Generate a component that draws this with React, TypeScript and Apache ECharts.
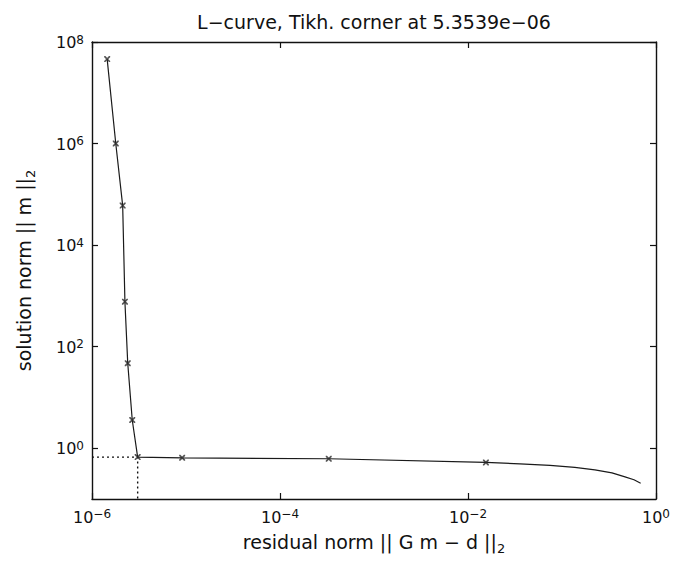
import React, { useEffect, useRef } from "react";
import * as echarts from "echarts";

// Tikhonov L-curve: residual norm ||G m − d||₂ against solution norm ||m||₂
const residualNorm = [1.45e-6, 1.79e-6, 2.12e-6, 2.24e-6, 2.4e-6, 2.68e-6, 3.06e-6, 9.1e-6, 3.3e-4, 1.55e-2];
const solutionNorm = [4.6e7, 1.0e6, 6.0e4, 7.7e2, 47, 3.6, 0.668, 0.647, 0.62, 0.525];
// remaining curve points beyond the last marked regularization parameter
const tailResidual = [3.57e-2, 7.45e-2, 0.137, 0.224, 0.34, 0.468, 0.583, 0.687];
const tailSolution = [0.493, 0.46, 0.42, 0.376, 0.328, 0.273, 0.239, 0.205];
// index of the corner among the marked samples
const cornerIndex = 6;
const cornerLambda = "5.3539e\u221206";

const xRange = [1e-6, 1];
const yRange = [1e-1, 1e8];
const xTickValues = [1e-6, 1e-4, 1e-2, 1];
const yTickValues = [1, 1e2, 1e4, 1e6, 1e8];

const FONT = '"DejaVu Sans", "Liberation Sans", sans-serif';
const INK = "#111";

const powerLabel = (v: number) => {
  const e = Math.round(Math.log10(v));
  const s = e < 0 ? "\u2212" + Math.abs(e) : String(e);
  return `{b|10}{s|${s}}`;
};

const tickRich = {
  b: { fontFamily: FONT, fontSize: 16, color: INK, lineHeight: 17, padding: [8, 0, 0, 0], verticalAlign: "bottom" },
  s: { fontFamily: FONT, fontSize: 12, color: INK, lineHeight: 13, verticalAlign: "top" },
};

const nameRich = {
  t: { fontFamily: FONT, fontSize: 19, color: INK, lineHeight: 22, verticalAlign: "top" },
  sub: { fontFamily: FONT, fontSize: 13, color: INK, lineHeight: 14, padding: [10, 0, 0, 0], verticalAlign: "top" },
};

const frameLine = { show: true, onZero: false, lineStyle: { color: INK, width: 1.4 } };

function buildOption() {
  const curve = [
    ...residualNorm.map((x, i) => [x, solutionNorm[i]]),
    ...tailResidual.map((x, i) => [x, tailSolution[i]]),
  ];
  const samples = residualNorm.map((x, i) => [x, solutionNorm[i]]);
  const cx = residualNorm[cornerIndex];
  const cy = solutionNorm[cornerIndex];
  const cornerGuide = [
    [xRange[0], cy],
    [cx, cy],
    [cx, yRange[0]],
  ];

  const logX = {
    type: "log",
    logBase: 10,
    min: xRange[0],
    max: xRange[1],
    axisLine: frameLine,
    splitLine: { show: false },
    axisTick: { show: true, inside: true, length: 6, customValues: xTickValues, lineStyle: { color: INK, width: 1.2 } },
  };
  const logY = {
    type: "log",
    logBase: 10,
    min: yRange[0],
    max: yRange[1],
    axisLine: frameLine,
    splitLine: { show: false },
    axisTick: { show: true, inside: true, length: 6, customValues: yTickValues, lineStyle: { color: INK, width: 1.2 } },
  };

  return {
    animation: false,
    backgroundColor: "#fff",
    grid: { left: 92, right: 17, top: 42, bottom: 66, containLabel: false },
    xAxis: [
      {
        ...logX,
        position: "bottom",
        axisLabel: { customValues: xTickValues, formatter: powerLabel, rich: tickRich, margin: 9 },
        name: "{t|residual norm || G m \u2212 d ||}{sub|2}",
        nameLocation: "middle",
        nameGap: 33,
        nameTextStyle: { rich: nameRich },
      },
      {
        ...logX,
        position: "top",
        axisLabel: { show: false },
        name: `L\u2212curve, Tikh. corner at ${cornerLambda}`,
        nameLocation: "middle",
        nameGap: 11,
        nameTextStyle: { fontFamily: FONT, fontSize: 19, color: INK },
      },
    ],
    yAxis: [
      {
        ...logY,
        position: "left",
        axisLabel: { customValues: yTickValues, formatter: powerLabel, rich: tickRich, margin: 8 },
        name: "{t|solution norm || m ||}{sub|2}",
        nameLocation: "middle",
        nameRotate: 90,
        nameGap: 56,
        nameTextStyle: { rich: nameRich },
      },
      {
        ...logY,
        position: "right",
        axisLabel: { show: false },
      },
    ],
    series: [
      {
        name: "L-curve",
        type: "line",
        data: curve,
        symbol: "none",
        lineStyle: { color: "#1a1a1a", width: 1.2 },
        z: 2,
      },
      {
        name: "regularization parameters",
        type: "scatter",
        data: samples,
        symbol: "path://M0,0L2,0L10,8L10,10L8,10L0,2Z M8,0L10,0L10,2L2,10L0,10L0,8Z",
        symbolSize: 6,
        itemStyle: { color: "#2a2a2a" },
        z: 3,
      },
      {
        name: "corner",
        type: "line",
        data: cornerGuide,
        symbol: "none",
        lineStyle: { color: INK, width: 1.4, type: [2, 3] },
        z: 1,
      },
    ],
  };
}

export default function App() {
  const ref = useRef<HTMLDivElement>(null);
  useEffect(() => {
    if (!ref.current) return;
    const chart = echarts.init(ref.current, null, { renderer: "svg" });
    chart.setOption(buildOption() as any);
    return () => chart.dispose();
  }, []);
  return (
    <div
      ref={ref}
      style={{ position: "fixed", left: 0, top: 0, width: 673, height: 565, background: "#fff" }}
    />
  );
}
